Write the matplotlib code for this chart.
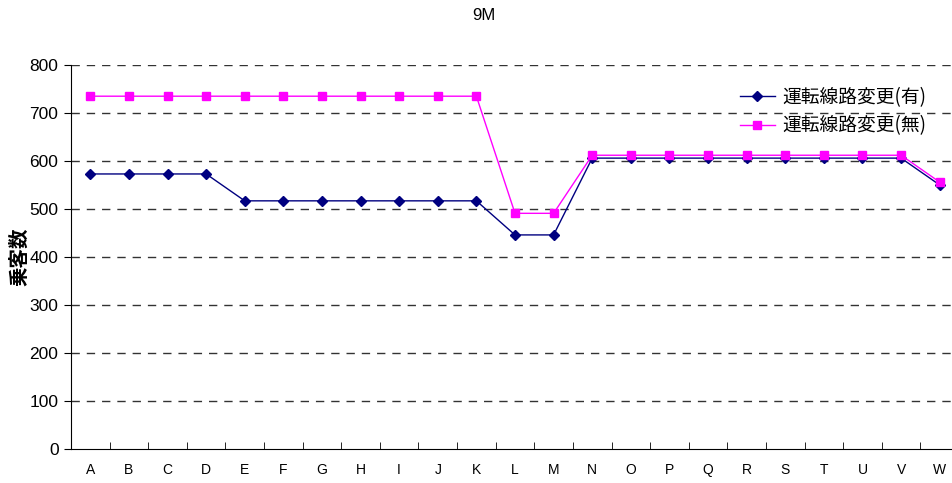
import matplotlib
matplotlib.use("Agg")
import matplotlib.pyplot as plt
import numpy as np

plt.rcParams['font.family'] = ['Noto Sans CJK JP', 'DejaVu Sans']

categories = list("ABCDEFGHIJKLMNOPQRSTUVW")
with_change = [573, 573, 573, 573, 517, 517, 517, 517, 517, 517, 517,
               446, 446, 606, 606, 606, 606, 606, 606, 606, 606, 606, 550]
without_change = [735, 735, 735, 735, 735, 735, 735, 735, 735, 735, 735,
                  491, 491, 612, 612, 612, 612, 612, 612, 612, 612, 612, 556]
y_ticks = [0, 100, 200, 300, 400, 500, 600, 700, 800]

W, H = 953, 483
fig = plt.figure(figsize=(W / 100, H / 100), dpi=100)
left, right, top, bottom = 71, 959, 65, 449
ax = fig.add_axes([left / W, 1 - bottom / H, (right - left) / W, (bottom - top) / H])

x = np.arange(len(categories))
ax.plot(x, with_change, color="#000080", marker="D", markersize=5, linewidth=1,
        label="運転線路変更(有)")
ax.plot(x, without_change, color="#FF00FF", marker="s", markersize=6, linewidth=1,
        label="運転線路変更(無)")

ax.set_xlim(-0.5, len(categories) - 0.5)
ax.set_ylim(0, 800)
ax.set_yticks(y_ticks)
ax.set_yticklabels([str(v) for v in y_ticks], fontsize=12.5, family=['Liberation Sans', 'DejaVu Sans'])
ax.set_xticks(x)
ax.set_xticklabels(categories, fontsize=10, family=['Liberation Sans', 'DejaVu Sans'])
ax.tick_params(axis='x', length=0, pad=10)
ax.set_xticks(np.arange(-0.5, len(categories), 1), minor=True)
ax.tick_params(axis='x', which='minor', length=5, direction='in', color='black')
ax.tick_params(axis='y', length=5, direction='out', pad=4)

for v in y_ticks[1:]:
    ax.axhline(v, color="#333333", linestyle=(0, (6, 5)), linewidth=1, zorder=0)

for s in ['top', 'right']:
    ax.spines[s].set_visible(False)
ax.spines['left'].set_color('black')
ax.spines['bottom'].set_color('black')

ax.set_ylabel("乗客数", fontsize=14, labelpad=0, fontweight='bold')
fig.text(484 / W, 1 - 16 / H, "9M", ha='center', va='center', fontsize=12,
         family=['Liberation Sans', 'DejaVu Sans'])

leg = fig.legend(loc='upper left', bbox_to_anchor=(740 / W, 1 - 87 / H),
                 frameon=False, fontsize=13.5, handlelength=1.85, handletextpad=0.4,
                 labelspacing=0.4, borderpad=0, borderaxespad=0)

fig.savefig("out.png", dpi=100)
